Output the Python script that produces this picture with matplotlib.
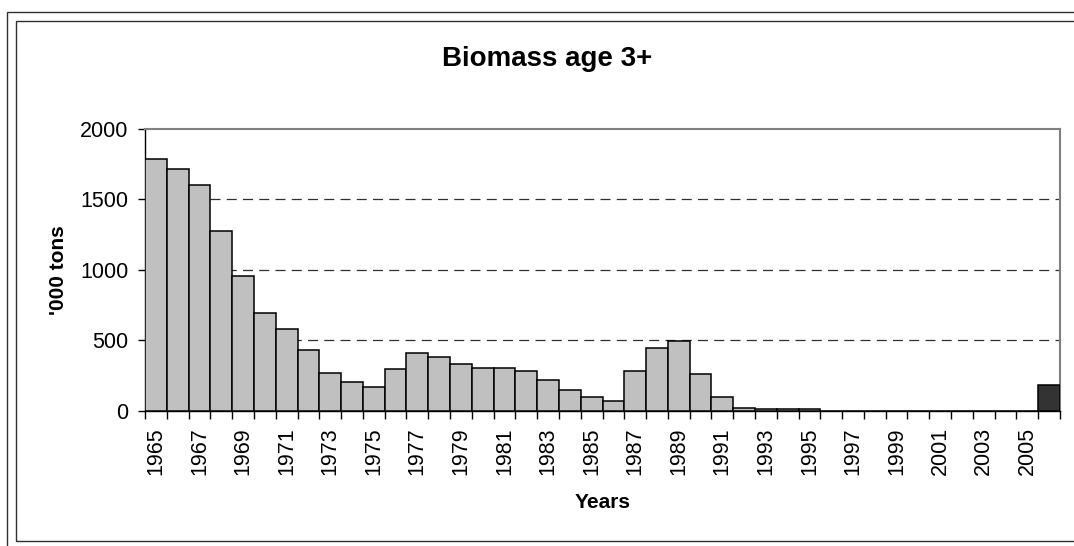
import matplotlib
matplotlib.use("Agg")
import matplotlib.pyplot as plt
from matplotlib.patches import Rectangle
from matplotlib.ticker import FixedLocator, NullFormatter

years = [str(y) for y in range(1965, 2007)]
biomass = [1789, 1713, 1601, 1279, 956, 695, 581, 432, 268, 204,
           171, 297, 408, 382, 335, 306, 306, 283, 221, 145,
           97, 71, 283, 444, 496, 259, 97, 21, 10, 10,
           10, 0, 0, 0, 0, 0, 0, 0, 0, 0,
           0, 185]
yticks = [0, 500, 1000, 1500, 2000]
title = "Biomass age 3+"
ylabel = "'000 tons"
xlabel = "Years"

plt.rcParams['font.family'] = ['Liberation Sans', 'DejaVu Sans']

W, H = 1074, 546
fig = plt.figure(figsize=(W / 100, H / 100), dpi=100)

def fx(px):
    return px / W

def fy(py):
    return 1 - py / H

# chart frames
fig.patches.append(Rectangle((fx(7), fy(551)), fx(1090) - fx(7), fy(12) - fy(551),
                             transform=fig.transFigure, fill=False,
                             edgecolor='#303030', linewidth=1.0))
fig.patches.append(Rectangle((fx(16), fy(541)), fx(1079) - fx(16), fy(21) - fy(541),
                             transform=fig.transFigure, fill=False,
                             edgecolor='#303030', linewidth=1.0))

ax = fig.add_axes([fx(145), fy(410.7), fx(1060) - fx(145), fy(129) - fy(410.7)])

n = len(years)
x = list(range(n))
colors = ['#c0c0c0'] * (n - 1) + ['#333333']
ax.bar(x, biomass, width=1.0, color=colors, edgecolor='black', linewidth=1.1, zorder=3)

ax.set_xlim(-0.5, n - 0.5)
ax.set_ylim(0, 2000)

# y axis
ax.set_yticks(yticks)
ax.set_yticklabels([str(v) for v in yticks], fontsize=15.5)
ax.tick_params(axis='y', direction='out', length=5, width=1, pad=7, colors='black')

# gridlines
for v in yticks[1:-1]:
    ax.axhline(v, color='#303030', linewidth=0.9, linestyle=(0, (8, 5)), zorder=1)

# x axis: ticks at bar boundaries, labels at centres of every other bar
ax.xaxis.set_major_locator(FixedLocator([i - 0.5 for i in range(n + 1)]))
ax.xaxis.set_major_formatter(NullFormatter())
ax.tick_params(axis='x', which='major', direction='out', length=6, width=1)
ax.set_xticks(x[::2], minor=True)
ax.set_xticklabels(years[::2], minor=True, rotation=90, fontsize=15.5)
ax.tick_params(axis='x', which='minor', length=0, pad=12)

for side in ['top', 'right']:
    ax.spines[side].set_color('#808080')
    ax.spines[side].set_linewidth(1.5)
for side in ['left', 'bottom']:
    ax.spines[side].set_color('black')
    ax.spines[side].set_linewidth(1.0)

fig.text(fx(547), fy(66), title, ha='center', va='baseline',
         fontsize=20, fontweight='bold')
fig.text(fx(58), fy(270), ylabel, ha='center', va='center', rotation=90,
         fontsize=15, fontweight='bold', rotation_mode='anchor')
fig.text(fx(603), fy(508), xlabel, ha='center', va='baseline',
         fontsize=15, fontweight='bold')

fig.savefig("out.png", dpi=100)
